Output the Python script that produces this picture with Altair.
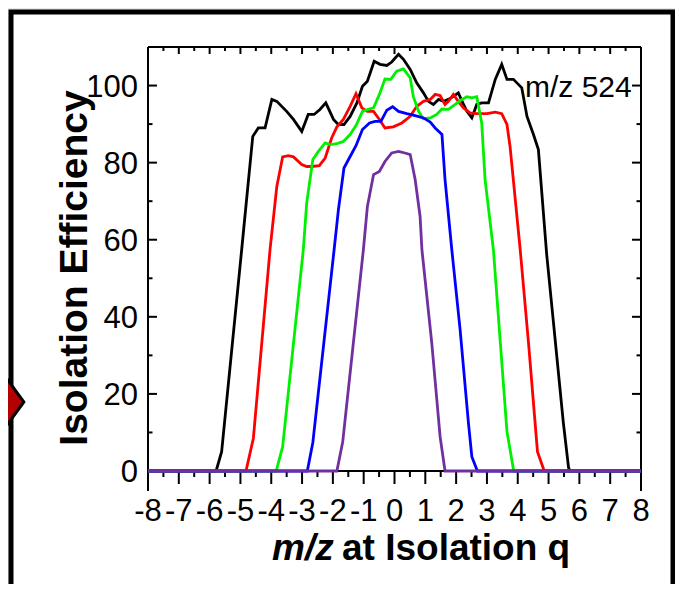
import altair as alt
import pandas as pd

# ---------------- data ----------------
black_x = [-8, -5.79, -5.61, -4.96, -4.60, -4.42, -4.20, -3.98, -3.82, -3.50, -3.28, -3.01, -2.80,
           -2.61, -2.42, -2.23, -1.98, -1.82, -1.64, -1.44, -1.22, -1.04, -0.88, -0.66, -0.47, -0.25,
           -0.09, 0.13, 0.29, 0.51, 0.72, 0.94, 1.10, 1.26, 1.43, 1.59, 1.75, 1.91, 2.07, 2.24, 2.35,
           2.51, 2.67, 2.83, 3.05, 3.27, 3.48, 3.65, 3.86, 4.02, 4.13, 4.30, 4.51, 4.67, 4.94, 5.16,
           5.48, 5.65, 5.70, 8]
black_y = [0, 0, 5.0, 57.4, 86.8, 89.0, 89.0, 96.4, 95.9, 93.3, 91.2, 88.1, 92.5,
           92.5, 93.8, 95.5, 91.2, 89.9, 89.9, 92.0, 95.5, 99.8, 101.1, 106.3, 105.5, 105.2,
           106.1, 108.1, 106.8, 104.2, 100.7, 98.1, 95.9, 95.1, 96.4, 95.9, 96.4, 97.2, 98.1, 95.1, 93.3,
           91.6, 95.1, 95.5, 95.5, 101.6, 105.5, 101.6, 101.6, 100.3, 99.4, 92.0, 87.3, 83.4, 56.1, 38.4,
           12.5, 0.8, 0, 0]

red_x = [-8, -4.82, -4.58, -4.04, -3.82, -3.63, -3.44, -3.28, -3.01, -2.85, -2.69, -2.44, -2.25,
         -2.04, -1.87, -1.66, -1.44, -1.25, -1.06, -0.88, -0.68, -0.49, -0.31, -0.04, 0.24, 0.51,
         0.72, 0.94, 1.16, 1.32, 1.48, 1.64, 1.75, 1.91, 2.07, 2.24, 2.45, 2.67, 3.00, 3.27, 3.48,
         3.65, 3.75, 4.08, 4.35, 4.64, 4.86, 8]
red_y = [0, 0, 8.5, 57.4, 73.8, 81.5, 81.8, 81.5, 79.5, 79.0, 79.0, 79.2, 81.2,
         86.4, 89.3, 91.2, 94.6, 97.9, 94.2, 93.3, 93.3, 91.2, 89.0, 89.3, 90.3, 92.0,
         94.6, 95.9, 96.4, 97.7, 97.4, 95.1, 95.9, 97.7, 95.9, 94.2, 92.9, 92.7, 92.7, 93.1, 92.7,
         89.9, 84.2, 57.4, 33.2, 5.0, 0, 0]

green_x = [-8, -3.84, -3.63, -2.96, -2.85, -2.65, -2.47, -2.25, -2.09, -1.87, -1.66, -1.44, -1.25,
           -1.04, -0.85, -0.68, -0.49, -0.31, -0.12, 0.07, 0.29, 0.51, 0.61, 0.78, 0.94, 1.16, 1.37,
           1.54, 1.75, 1.97, 2.19, 2.35, 2.51, 2.67, 2.83, 2.94, 3.21, 3.65, 3.87, 8]
green_y = [0, 0, 6.3, 57.4, 69.5, 80.8, 82.9, 85.1, 84.7, 84.9, 85.5, 87.3, 89.6,
           93.3, 93.8, 94.2, 97.7, 101.7, 101.6, 103.7, 104.3, 102.0, 97.2, 93.3, 91.4, 91.6, 92.5,
           93.9, 93.8, 95.1, 96.4, 97.1, 96.8, 97.1, 90.3, 75.6, 57.4, 10.2, 0, 0]

blue_x = [-8, -2.83, -2.65, -1.96, -1.82, -1.64, -1.44, -1.25, -1.04, -0.81, -0.63, -0.44, -0.25,
          -0.06, 0.13, 0.40, 0.67, 0.94, 1.16, 1.32, 1.54, 1.64, 1.86, 2.13, 2.40, 2.51, 2.69, 8]
blue_y = [0, 0, 7.4, 57.4, 67.8, 78.6, 81.6, 84.4, 88.6, 90.3, 90.7, 90.7, 93.6,
          94.5, 93.3, 92.7, 92.2, 91.6, 90.5, 89.0, 87.3, 75.6, 57.4, 36.6, 12.4, 3.7, 0, 0]

purple_x = [-8, -1.87, -1.68, -1.01, -0.88, -0.68, -0.49, -0.31, -0.09, 0.13, 0.34, 0.51, 0.67,
            0.83, 0.89, 1.21, 1.48, 1.64, 8]
purple_y = [0, 0, 7.6, 57.4, 68.6, 76.9, 77.7, 80.3, 82.5, 82.9, 82.5, 82.1, 75.6,
            66.1, 57.4, 33.2, 8.9, 0, 0]

series_names = ["black", "red", "green", "blue", "purple"]
series_colors = ["#000000", "#ff0000", "#00f000", "#0000ff", "#7030a0"]
series_x = [black_x, red_x, green_x, blue_x, purple_x]
series_y = [black_y, red_y, green_y, blue_y, purple_y]

x_labels = list(range(-8, 9))
x_major_ticks = list(range(-8, 9))
x_minor_ticks = [v + 0.5 for v in range(-8, 8)]
y_labels = [0, 20, 40, 60, 80, 100]
y_major_ticks = [0, 20, 40, 60, 80, 100]
y_minor_ticks = [10, 30, 50, 70, 90]

annotation = "m/z 524"
y_title = "Isolation Efficiency"
x_title_italic = "m/z"
x_title_rest = "at Isolation q"

# ---------------- layout ----------------
W, H = 493, 424
FONT = "Liberation Sans"
xs = alt.Scale(domain=[-8, 8], nice=False, zero=False)
ys = alt.Scale(domain=[0, 110], nice=False, zero=False)
one = pd.DataFrame({"a": [0]})

frame = alt.Chart(one).mark_rect(fill="white", stroke="black", strokeWidth=5).encode(
    x=alt.value(-137), x2=alt.value(525), y=alt.value(-35), y2=alt.value(600))

# tick labels drawn through the scales
x_lab = alt.Chart(pd.DataFrame({"v": x_labels, "t": [str(v) for v in x_labels]})).mark_text(
    font=FONT, fontSize=31, color="black", align="center", baseline="alphabetic").encode(
    x=alt.X("v:Q", scale=xs, axis=None), y=alt.value(H + 50), text="t:N")
y_lab = alt.Chart(pd.DataFrame({"v": y_labels, "t": [str(v) for v in y_labels]})).mark_text(
    font=FONT, fontSize=31, color="black", align="right", baseline="alphabetic", dy=11).encode(
    y=alt.Y("v:Q", scale=ys, axis=None), x=alt.value(-10), text="t:N")

def xticks(vals, y0, y1):
    return alt.Chart(pd.DataFrame({"v": vals})).mark_rule(color="black", strokeWidth=2).encode(
        x=alt.X("v:Q", scale=xs, axis=None), y=alt.value(y0), y2=alt.value(y1))

def yticks(vals, x0, x1):
    return alt.Chart(pd.DataFrame({"v": vals})).mark_rule(color="black", strokeWidth=2).encode(
        y=alt.Y("v:Q", scale=ys, axis=None), x=alt.value(x0), x2=alt.value(x1))

ticks = [
    xticks(x_major_ticks, H, H + 13), xticks(x_minor_ticks, H, H + 6),
    xticks(x_major_ticks, 0, 7), xticks(x_minor_ticks, 0, 4),
    yticks(y_major_ticks, 0, 9), yticks(y_minor_ticks, 0, 4.5),
    yticks(y_major_ticks, W - 9, W), yticks(y_minor_ticks, W - 4.5, W),
]

def border(**enc):
    return alt.Chart(one).mark_rule(color="black", strokeWidth=2).encode(**enc)

borders = [
    border(x=alt.value(0), y=alt.value(0), y2=alt.value(H + 20)),
    border(x=alt.value(W), y=alt.value(0), y2=alt.value(H + 20)),
    border(y=alt.value(0), x=alt.value(0), x2=alt.value(W)),
    border(y=alt.value(H), x=alt.value(0), x2=alt.value(W)),
]

lines = []
for name, xv, yv, col in zip(series_names, series_x, series_y, series_colors):
    df = pd.DataFrame({"x": xv, "y": yv, "s": name})
    lines.append(alt.Chart(df).mark_line(color=col, strokeWidth=2.8).encode(
        x=alt.X("x:Q", scale=xs, axis=None), y=alt.Y("y:Q", scale=ys, axis=None)))

def txt(text, x, y, **kw):
    return alt.Chart(one).mark_text(text=text, font=FONT, color="black", **kw).encode(
        x=alt.value(x), y=alt.value(y))

texts = [
    txt(annotation, 377, 50, fontSize=30, align="left", baseline="alphabetic"),
    txt(y_title, -61, 221, fontSize=39, fontWeight="bold", angle=270, align="center",
        baseline="alphabetic"),
    txt(x_title_italic, 124, 513, fontSize=37, fontWeight="bold", fontStyle="italic",
        align="left", baseline="alphabetic"),
    txt(x_title_rest, 194, 513, fontSize=37, fontWeight="bold", align="left",
        baseline="alphabetic"),
]

diamond = alt.Chart(one).mark_point(
    shape="M0,-1L0.73,0L0,1L-0.73,0Z", filled=True, fill="#b30000", stroke="black",
    strokeWidth=3, size=8100, opacity=1, strokeOpacity=1, fillOpacity=1).encode(
    x=alt.value(-157), y=alt.value(355))

chart = alt.layer(frame, *borders, *ticks, *lines, x_lab, y_lab, *texts, diamond).properties(
    width=W, height=H,
    autosize=alt.AutoSizeParams(type="none"),
    padding={"left": 140, "top": 39, "right": 34, "bottom": 113},
    background="#e8e8e8",
).configure_view(stroke=None)

chart.save("out.html", embed_options={"renderer": "svg", "actions": False})
